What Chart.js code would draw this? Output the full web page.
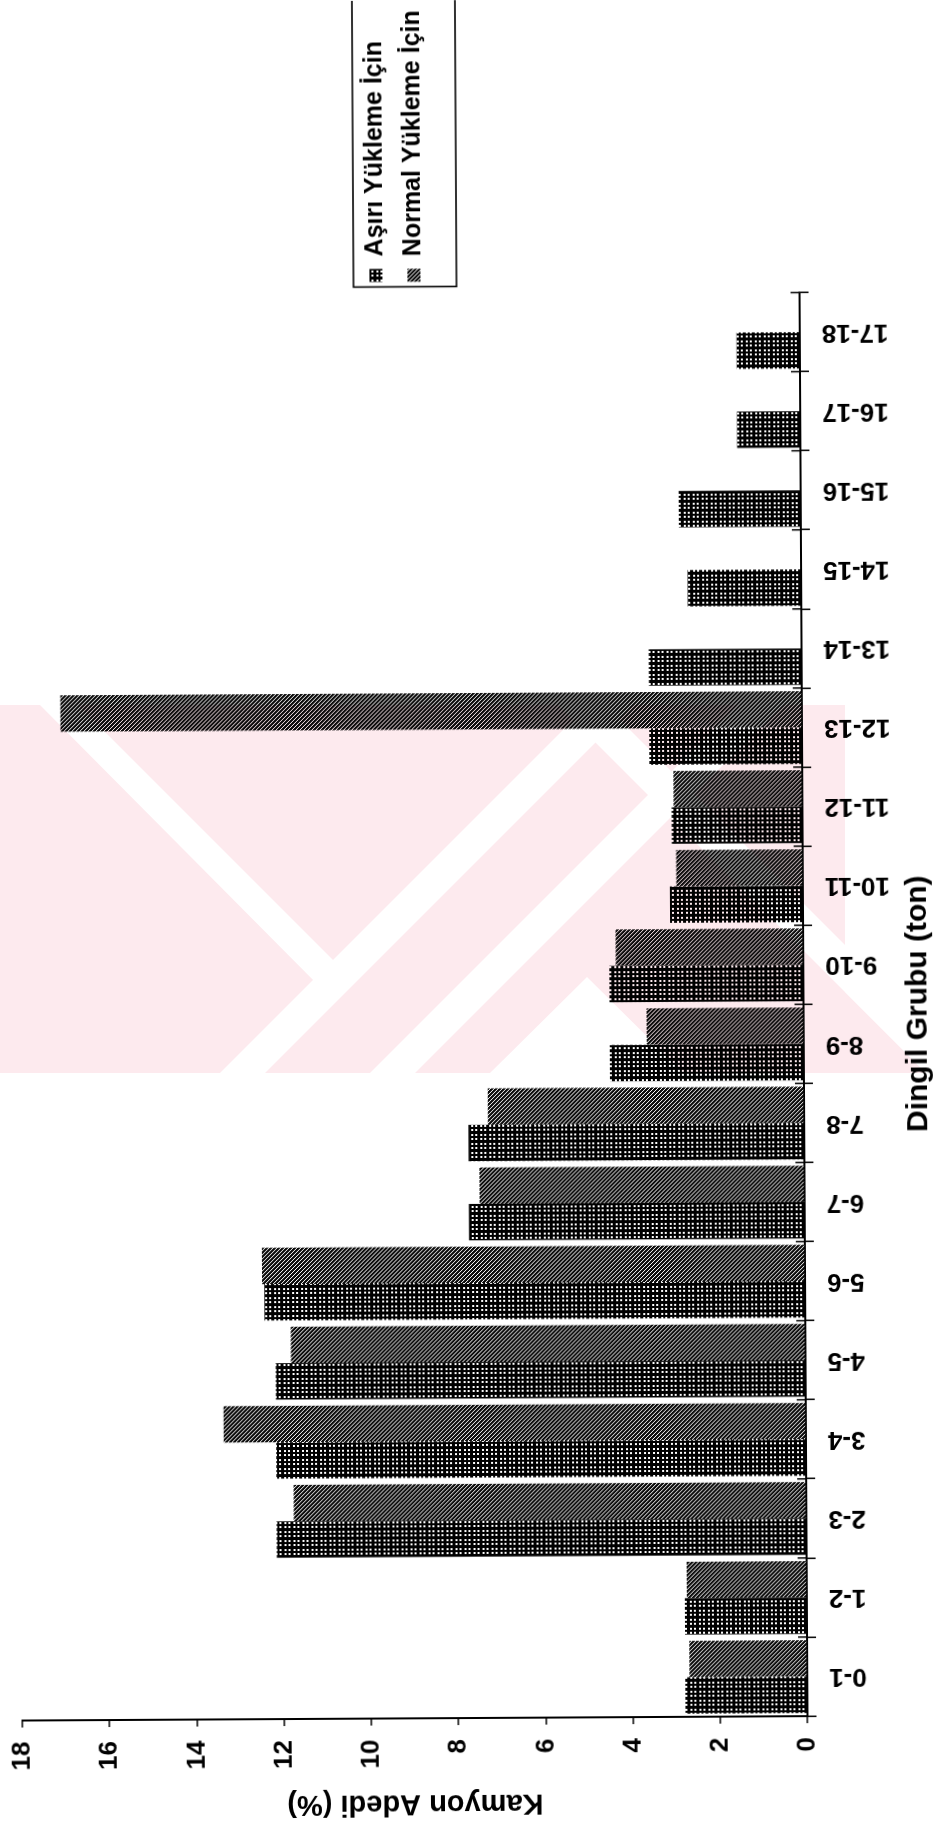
<!DOCTYPE html>
<html lang="tr">
<head>
<meta charset="utf-8">
<title>Dingil Grubu Dağılımı</title>
<script src="https://cdn.jsdelivr.net/npm/chart.js@4.4.1/dist/chart.umd.min.js"></script>
<style>
  html, body { margin: 0; padding: 0; background: #fff; }
  #page { position: relative; width: 948px; height: 1826px; overflow: hidden; background: #fff; }
  /* the chart is laid out landscape and turned a quarter turn counter-clockwise */
  #wrap {
    position: absolute; left: -439px; top: 439px;
    width: 1826px; height: 948px;
    transform: rotate(-90.32deg); transform-origin: 50% 50%;
  }
  canvas { display: block; }
  /* faint red stamp printed over the page */
  #stamp { position: absolute; left: 0; top: 0; width: 948px; height: 1826px; mix-blend-mode: multiply; pointer-events: none; }
</style>
</head>
<body>
<div id="page">
  <div id="wrap"><canvas id="chart" width="1826" height="948"></canvas></div>
  <svg id="stamp" viewBox="0 0 948 1826" xmlns="http://www.w3.org/2000/svg">
    <polygon fill="#fdeaee" points="0,705 845,705 845,992 926,1073 0,1073"/>
    <g fill="#ffffff">
      <polygon points="40,705 78,705 348,975 328,995"/>
      <polygon points="220,1073 265,1073 633,705 588,705"/>
      <polygon points="370,1073 415,1073 783,705 738,705"/>
      <polygon points="490,1073 587,977 684,1073"/>
      <polygon points="558,705 605,705 948,1048 948,1073 926,1073"/>
    </g>
  </svg>
</div>
<script>
// Axle load groups (ton)
const categories = ['0-1', '1-2', '2-3', '3-4', '4-5', '5-6', '6-7', '7-8', '8-9',
                    '9-10', '10-11', '11-12', '12-13', '13-14', '14-15', '15-16', '16-17', '17-18'];

// Share of trucks (%) per axle load group
const asiriYukleme  = [2.8, 2.8, 12.15, 12.15, 12.15, 12.4, 7.7, 7.7, 4.45,
                       4.45, 3.05, 3.0, 3.5, 3.5, 2.6, 2.8, 1.45, 1.45];
const normalYukleme = [2.7, 2.75, 11.75, 13.35, 11.8, 12.45, 7.45, 7.25, 3.6,
                       4.3, 2.9, 2.95, 17.0, null, null, null, null, null];

const seriesNames = ['Aşırı Yükleme İçin', 'Normal Yükleme İçin'];
const valueTicks = [0, 2, 4, 6, 8, 10, 12, 14, 16, 18];

const FONT = '"Liberation Sans", Arial, Helvetica, sans-serif';
Chart.defaults.font.family = FONT;
Chart.defaults.color = '#000';

// Cross-hatch fill: black lattice with small white cells
function gridPattern() {
  const c = document.createElement('canvas');
  c.width = 9; c.height = 9;
  const g = c.getContext('2d');
  g.fillStyle = '#000'; g.fillRect(0, 0, 9, 9);
  g.fillStyle = '#fff';
  [2, 6].forEach(x => [2, 6].forEach(y => g.fillRect(x, y, 2, 2)));
  return g.createPattern(c, 'repeat');
}
// Diagonal hatch fill
function diagonalPattern() {
  const c = document.createElement('canvas');
  c.width = 4; c.height = 4;
  const g = c.getContext('2d');
  g.fillStyle = '#0c0c0c'; g.fillRect(0, 0, 4, 4);
  g.fillStyle = '#fff';
  for (let i = 0; i < 4; i++) g.fillRect(i, i, 1, 1);
  return g.createPattern(c, 'repeat');
}

// Places the legend block and draws its frame
const legendFrame = {
  id: 'legendFrame',
  afterLayout(chart) {
    const lg = chart.legend;
    const h = lg.bottom - lg.top;
    lg.top = 354;
    lg.bottom = lg.top + h;
  },
  afterDraw(chart) {
    const boxes = chart.legend.legendHitBoxes;
    if (!boxes || !boxes.length) return;
    const first = boxes[0], last = boxes[boxes.length - 1];
    const left = first.left - 5;
    const top = first.top - 10;
    const bottom = last.top + last.height + 30;
    const ctx = chart.ctx;
    ctx.save();
    ctx.strokeStyle = '#000';
    ctx.lineWidth = 1.6;
    ctx.strokeRect(left, top, chart.width + 20 - left, bottom - top);
    ctx.restore();
  }
};

// Category boundary ticks also reach a little way into the plot
const innerTicks = {
  id: 'innerTicks',
  afterDatasetsDraw(chart) {
    const xs = chart.scales.x, area = chart.chartArea, ctx = chart.ctx;
    const n = xs.ticks.length;
    ctx.save();
    ctx.strokeStyle = '#000';
    ctx.lineWidth = 1.5;
    ctx.beginPath();
    for (let i = 0; i <= n; i++) {
      let px;
      if (i === 0) px = area.left;
      else if (i === n) px = area.right;
      else px = (xs.getPixelForTick(i - 1) + xs.getPixelForTick(i)) / 2;
      ctx.moveTo(px, area.bottom);
      ctx.lineTo(px, area.bottom - 9);
    }
    ctx.stroke();
    ctx.restore();
  }
};

new Chart(document.getElementById('chart').getContext('2d'), {
  type: 'bar',
  data: {
    labels: categories,
    datasets: [
      { label: seriesNames[0], data: asiriYukleme,  backgroundColor: gridPattern(),     borderWidth: 0 },
      { label: seriesNames[1], data: normalYukleme, backgroundColor: diagonalPattern(), borderWidth: 0 }
    ]
  },
  options: {
    responsive: false,
    animation: false,
    devicePixelRatio: 1,
    layout: { padding: { top: 18, left: 0, right: 0, bottom: 0 } },
    datasets: { bar: { categoryPercentage: 0.92, barPercentage: 1.0 } },
    plugins: {
      legend: {
        position: 'right',
        align: 'start',
        fullSize: false,
        maxWidth: 295,
        labels: {
          boxWidth: 13, boxHeight: 13, padding: 13, color: '#000',
          font: { family: FONT, size: 25, weight: 'bold' }
        }
      },
      tooltip: { enabled: false }
    },
    scales: {
      x: {
        offset: true,
        grid: { offset: true, drawOnChartArea: false, drawTicks: true, tickLength: 9, color: '#000', lineWidth: 1.5 },
        border: { display: true, color: '#000', width: 2 },
        ticks: {
          autoSkip: false, minRotation: 90, maxRotation: 90, padding: 13, color: '#000',
          font: { family: FONT, size: 26, weight: 'bold' }
        },
        title: {
          display: true, text: 'Dingil Grubu (ton)', color: '#000',
          font: { family: FONT, size: 30, weight: 'bold' }, padding: { top: 4, bottom: 12 }
        },
        afterFit(scale) { scale.height = 145; }
      },
      y: {
        min: 0, max: 18,
        afterBuildTicks(scale) { scale.ticks = valueTicks.map(v => ({ value: v })); },
        grid: { drawOnChartArea: false, drawTicks: true, tickLength: 7, color: '#000', lineWidth: 1.5 },
        border: { display: true, color: '#000', width: 2 },
        ticks: { padding: 14, color: '#000', font: { family: FONT, size: 26, weight: 'bold' } },
        title: {
          display: true, text: 'Kamyon Adedi (%)', color: '#000',
          font: { family: FONT, size: 29, weight: 'bold' }, padding: { top: 6, bottom: 0 }
        },
        afterFit(scale) { scale.width = 108; scale.paddingTop = 0; }
      }
    }
  },
  plugins: [legendFrame, innerTicks]
});
</script>
</body>
</html>
